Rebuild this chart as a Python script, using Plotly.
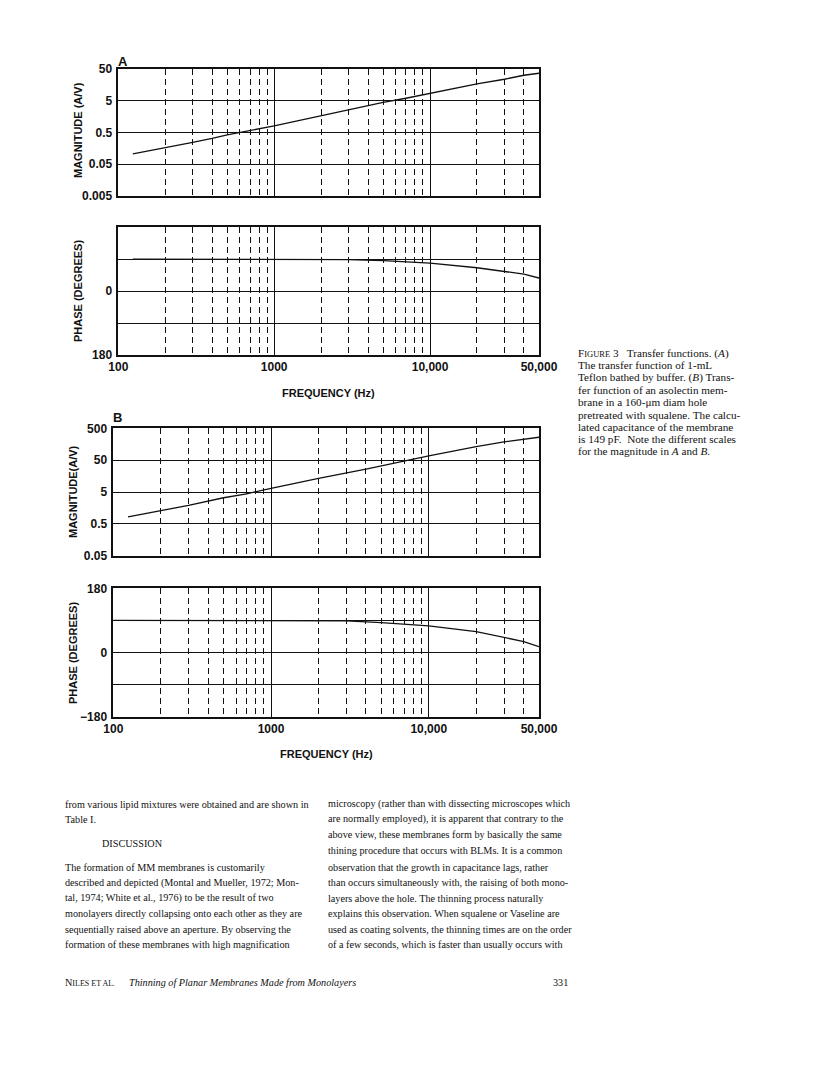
import numpy as np
import plotly.graph_objects as go

# ---- data ----
freq_a_mag = [124, 200, 300, 400, 500, 1000, 2000, 3000, 4000, 5000, 7000, 10000, 20000, 30000, 40000, 50000]
mag_a = [0.106, 0.163, 0.243, 0.325, 0.42, 0.81, 1.70, 2.56, 3.67, 4.46, 6.0, 8.5, 17.0, 23.8, 31.8, 36.7]

freq_a_ph = [124, 1000, 2000, 3000, 5000, 10000, 20000, 30000, 40000, 50000]
phase_a = [90, 90, 90, 89, 86, 79, 66, 56, 48, 37]

freq_b_mag = [124, 200, 300, 500, 700, 1000, 2000, 4000, 8000, 10000, 20000, 30000, 50000]
mag_b = [0.83, 1.30, 1.9, 3.3, 4.4, 6.5, 13.4, 26.0, 56.0, 68.0, 133.0, 186.0, 262.0]

freq_b_ph = [100, 1000, 2000, 3000, 5000, 10000, 20000, 30000, 40000, 50000]
phase_b = [90, 90, 90, 89, 84, 75, 59, 43, 31, 17]

# axis ticks / grid positions
freq_ticks = [100, 1000, 10000, 50000]
freq_labels = ["100", "1000", "10,000", "50,000"]
freq_dashed = [200, 300, 400, 500, 600, 700, 800, 900,
               2000, 3000, 4000, 5000, 6000, 7000, 8000, 9000,
               20000, 30000, 40000]
mag_a_ticks = [0.005, 0.05, 0.5, 5, 50]
mag_a_labels = ["0.005", "0.05", "0.5", "5", "50"]
mag_b_ticks = [0.05, 0.5, 5, 50, 500]
mag_b_labels = ["0.05", "0.5", "5", "50", "500"]
phase_ticks = [-180, -90, 0, 90, 180]
phase_a_labels = ["180", "", "0", "", ""]
phase_b_labels = ["\u2212180", "", "0", "", "180"]

caption_lines = [
    "F<span style='font-size:8.5px'>IGURE</span> 3   Transfer functions. (<i>A</i>)",
    "The transfer function of 1-mL",
    "Teflon bathed by buffer. (<i>B</i>) Trans-",
    "fer function of an asolectin mem-",
    "brane in a 160-\u03bcm diam hole",
    "pretreated with squalene. The calcu-",
    "lated capacitance of the membrane",
    "is 149 pF.  Note the different scales",
    "for the magnitude in <i>A</i> and <i>B</i>.",
]

left_col = [
    "from various lipid mixtures were obtained and are shown in",
    "Table I.",
    "DISCUSSION",
    "The formation of MM membranes is customarily",
    "described and depicted (Montal and Mueller, 1972; Mon-",
    "tal, 1974; White et al., 1976) to be the result of two",
    "monolayers directly collapsing onto each other as they are",
    "sequentially raised above an aperture. By observing the",
    "formation of these membranes with high magnification",
]
right_col = [
    "microscopy (rather than with dissecting microscopes which",
    "are normally employed), it is apparent that contrary to the",
    "above view, these membranes form by basically the same",
    "thining procedure that occurs with BLMs. It is a common",
    "observation that the growth in capacitance lags, rather",
    "than occurs simultaneously with, the raising of both mono-",
    "layers above the hole. The thinning process naturally",
    "explains this observation. When squalene or Vaseline are",
    "used as coating solvents, the thinning times are on the order",
    "of a few seconds, which is faster than usually occurs with",
]

# the page body adds an 8 px margin, so the figure is drawn 8 px in
OFF = 8
W, H = 816 - OFF, 1072 - OFF
INK = "#111111"


def px(x):
    return (x - OFF) / W


def py(y):
    return 1 - (y - OFF) / H


fig = go.Figure()

line_style = dict(color=INK, width=1.3)
fig.add_trace(go.Scatter(x=freq_a_mag, y=mag_a, mode="lines", line=line_style,
                         xaxis="x", yaxis="y", showlegend=False))
fig.add_trace(go.Scatter(x=freq_a_ph, y=phase_a, mode="lines", line=line_style,
                         xaxis="x2", yaxis="y2", showlegend=False))
fig.add_trace(go.Scatter(x=freq_b_mag, y=mag_b, mode="lines", line=line_style,
                         xaxis="x3", yaxis="y3", showlegend=False))
fig.add_trace(go.Scatter(x=freq_b_ph, y=phase_b, mode="lines", line=line_style,
                         xaxis="x4", yaxis="y4", showlegend=False))

tick_font = dict(family="Liberation Sans, Arial", size=12, color=INK, weight="bold")


def freq_axis(x0, x1, anchor, labels):
    return dict(
        type="log", range=[2, np.log10(50000)], domain=[px(x0), px(x1)], anchor=anchor,
        automargin=False,
        showline=True, mirror=True, linecolor=INK, linewidth=1.5,
        showgrid=True, gridcolor=INK, gridwidth=1.2, zeroline=False,
        tickmode="array", tickvals=freq_ticks, ticktext=freq_labels,
        showticklabels=labels, ticks="", tickfont=tick_font,
        minor=dict(tickmode="array", tickvals=freq_dashed, showgrid=True,
                   gridcolor=INK, gridwidth=1.1, griddash="6px,4px", ticks=""),
    )


def val_axis(y0, y1, anchor, kind, rng, vals, text):
    return dict(
        type=kind, range=rng, domain=[py(y1), py(y0)], anchor=anchor,
        automargin=False,
        showline=True, mirror=True, linecolor=INK, linewidth=1.5,
        showgrid=True, gridcolor=INK, gridwidth=1.2, zeroline=False,
        tickmode="array", tickvals=vals, ticktext=text,
        ticks="outside", ticklen=2, tickcolor="rgba(0,0,0,0)", tickfont=tick_font,
    )


fig.update_layout(
    width=W, height=H, margin=dict(l=0, r=0, t=0, b=0, autoexpand=False),
    paper_bgcolor="white", plot_bgcolor="white", showlegend=False,
    xaxis=freq_axis(118.3, 539, "y", False),
    yaxis=val_axis(69, 196, "x", "log", [np.log10(0.005), np.log10(50)], mag_a_ticks, mag_a_labels),
    xaxis2=freq_axis(118.3, 539, "y2", True),
    yaxis2=val_axis(227.3, 355, "x2", "linear", [-180, 180], phase_ticks, phase_a_labels),
    xaxis3=freq_axis(113.3, 539, "y3", False),
    yaxis3=val_axis(428.3, 555.7, "x3", "log", [np.log10(0.05), np.log10(500)], mag_b_ticks, mag_b_labels),
    xaxis4=freq_axis(113.3, 539, "y4", True),
    yaxis4=val_axis(588.3, 717, "x4", "linear", [-180, 180], phase_ticks, phase_b_labels),
)

title_font = dict(family="Liberation Sans, Arial", size=11, color=INK, weight="bold")


def note(x, y, text, font, xanchor="center", angle=0):
    fig.add_annotation(x=px(x), y=py(y), xref="paper", yref="paper", text=text,
                       showarrow=False, font=font, xanchor=xanchor, yanchor="middle",
                       textangle=angle, borderpad=0)


panel_font = dict(family="Liberation Sans, Arial", size=13, color=INK, weight="bold")
note(117, 61, "A", panel_font, "left")
note(112, 417, "B", panel_font, "left")

note(78, 130, "MAGNITUDE (A/V)", title_font, angle=-90)
note(78, 291, "PHASE (DEGREES)", title_font, angle=-90)
note(328, 393, "FREQUENCY (Hz)", title_font)
note(73, 492, "MAGNITUDE(A/V)", title_font, angle=-90)
note(73, 653, "PHASE (DEGREES)", title_font, angle=-90)
note(326, 754, "FREQUENCY (Hz)", title_font)

cap_font = dict(family="Liberation Serif, Times New Roman", size=11.2, color=INK)
for i, t in enumerate(caption_lines):
    note(577, 353 + 12.3 * i, t, cap_font, "left")

body_font = dict(family="Liberation Serif, Times New Roman", size=10.2, color=INK)
left_y = [804, 819, 843.3, 867.3, 882.7, 898.3, 913.3, 929.3, 944.3]
left_x = [64, 64, 101, 64, 64, 64, 64, 64, 64]
right_y = [804, 819, 834.3, 850.7, 867.3, 882.7, 898.3, 913.3, 929.3, 944.3]
for t, x, y in zip(left_col, left_x, left_y):
    note(x, y, t, body_font, "left")
for t, y in zip(right_col, right_y):
    note(327, y, t, body_font, "left")

note(64, 982, "N<span style='font-size:8px'>ILES ET AL.</span>", body_font, "left")
note(128, 982, "<i>Thinning of Planar Membranes Made from Monolayers</i>", body_font, "left")
note(569, 982, "331", body_font, "right")

fig.write_html("out.html")
